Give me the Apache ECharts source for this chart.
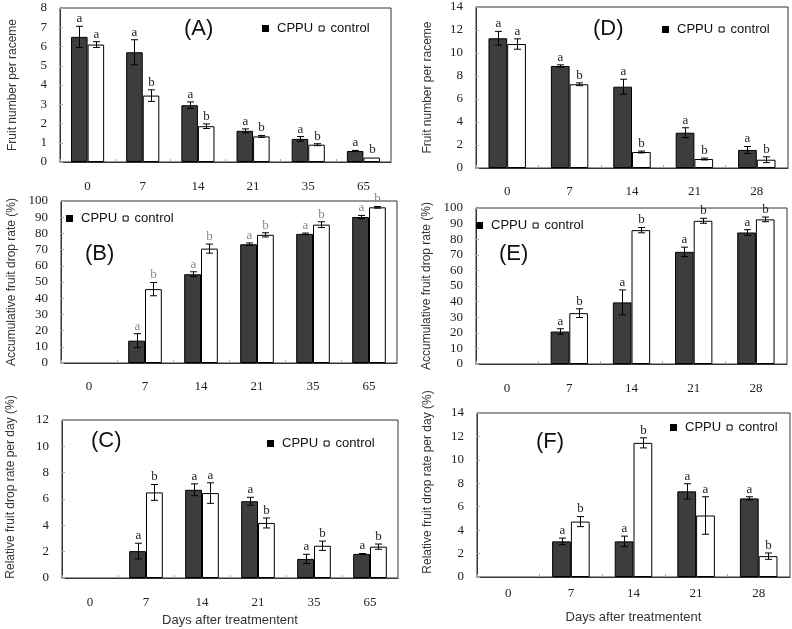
<!DOCTYPE html>
<html><head><meta charset="utf-8">
<script src="https://cdn.jsdelivr.net/npm/echarts@6/dist/echarts.min.js"></script>
<style>html,body{margin:0;padding:0;background:#fff}#c{width:792px;height:629px}</style>
</head><body><div id="c"></div>
<script>
// Categories
const daysLeft = ['0', '7', '14', '21', '35', '65'];
const daysRight = ['0', '7', '14', '21', '28'];
const xName = 'Days after treatmentent';

// (A) Fruit number per raceme
const aCPPU = [6.5, 5.7, 2.95, 1.62, 1.2, 0.57];
const aCPPUErr = [0.55, 0.65, 0.17, 0.1, 0.12, 0.03];
const aControl = [6.1, 3.45, 1.86, 1.33, 0.9, 0.23];
const aControlErr = [0.15, 0.3, 0.12, 0.05, 0.05, 0];
const aLetCPPU = ['a', 'a', 'a', 'a', 'a', 'a'];
const aLetControl = ['a', 'b', 'b', 'b', 'b', 'b'];

// (B) Accumulative fruit drop rate (%)
const bCPPU = [null, 13.8, 54.8, 73.3, 79.7, 90.1];
const bCPPUErr = [0, 4.3, 1.5, 0.8, 0.5, 1.0];
const bControl = [null, 45.6, 70.6, 79.1, 85.4, 96.1];
const bControlErr = [0, 4.1, 2.8, 1.3, 1.8, 0.5];
const bLetCPPU = ['', 'a', 'a', 'a', 'a', 'a'];
const bLetControl = ['', 'b', 'b', 'b', 'b', 'b'];

// (C) Relative fruit drop rate per day (%)
const cCPPU = [null, 2.04, 6.7, 5.83, 1.45, 1.83];
const cCPPUErr = [0, 0.6, 0.45, 0.3, 0.35, 0.03];
const cControl = [null, 6.5, 6.45, 4.18, 2.45, 2.38];
const cControlErr = [0, 0.6, 0.78, 0.38, 0.35, 0.2];
const cLetCPPU = ['', 'a', 'a', 'a', 'a', 'a'];
const cLetControl = ['', 'b', 'a', 'b', 'b', 'b'];

// (D) Fruit number per raceme
const dCPPU = [11.28, 8.87, 7.07, 3.07, 1.57];
const dCPPUErr = [0.6, 0.1, 0.65, 0.43, 0.3];
const dControl = [10.78, 7.28, 1.39, 0.78, 0.72];
const dControlErr = [0.45, 0.12, 0.08, 0.08, 0.25];
const dLetCPPU = ['a', 'a', 'a', 'a', 'a'];
const dLetControl = ['a', 'b', 'b', 'b', 'b'];

// (E) Accumulative fruit drop rate (%)
const eCPPU = [null, 20.8, 39.5, 71.9, 84.3];
const eCPPUErr = [0, 1.8, 8, 3, 1.8];
const eControl = [null, 32.6, 85.8, 91.8, 92.7];
const eControlErr = [0, 2.8, 1.7, 1.6, 1.5];
const eLetCPPU = ['', 'a', 'a', 'a', 'a'];
const eLetControl = ['', 'b', 'b', 'b', 'b'];

// (F) Relative fruit drop rate per day (%)
const fCPPU = [null, 3.04, 3.04, 7.31, 6.71];
const fCPPUErr = [0, 0.28, 0.45, 0.65, 0.14];
const fControl = [null, 4.73, 11.45, 5.25, 1.78];
const fControlErr = [0, 0.43, 0.43, 1.6, 0.27];
const fLetCPPU = ['', 'a', 'a', 'a', 'a'];
const fLetControl = ['', 'b', 'b', 'a', 'b'];

const SERIF = '"Liberation Serif", "Times New Roman", serif';
const SANS = '"Liberation Sans", Arial, sans-serif';

const panels = [
  { tag: '(A)', cats: daysLeft, cppu: aCPPU, cppuErr: aCPPUErr, ctrl: aControl, ctrlErr: aControlErr, lc: aLetCPPU, lk: aLetControl,
    grid: { left: 60, top: 8, width: 331, height: 154 }, yMax: 8, yInt: 1, yName: 'Fruit number per raceme', nameGap: 41, nameShift: 0,
    letterColor: '#222', legend: { left: 262, top: 22 }, title: { left: 184, top: 18 }, xMargin: 18, xName: '' },
  { tag: '(B)', cats: daysLeft, cppu: bCPPU, cppuErr: bCPPUErr, ctrl: bControl, ctrlErr: bControlErr, lc: bLetCPPU, lk: bLetControl,
    grid: { left: 61, top: 201, width: 336, height: 162 }, yMax: 100, yInt: 10, yName: 'Accumulative fruit drop rate (%)', nameGap: 43, nameShift: 0,
    letterColor: '#888', legend: { left: 66, top: 212 }, title: { left: 85, top: 243 }, xMargin: 17, xName: '' },
  { tag: '(C)', cats: daysLeft, cppu: cCPPU, cppuErr: cCPPUErr, ctrl: cControl, ctrlErr: cControlErr, lc: cLetCPPU, lk: cLetControl,
    grid: { left: 62, top: 420, width: 336, height: 158 }, yMax: 12, yInt: 2, yName: 'Relative fruit drop rate per day (%)', nameGap: 45, nameShift: 24,
    letterColor: '#222', legend: { left: 267, top: 437 }, title: { left: 91, top: 430 }, xMargin: 18, xName: xName, xNameGap: 36 },
  { tag: '(D)', cats: daysRight, cppu: dCPPU, cppuErr: dCPPUErr, ctrl: dControl, ctrlErr: dControlErr, lc: dLetCPPU, lk: dLetControl,
    grid: { left: 476, top: 7, width: 312, height: 161 }, yMax: 14, yInt: 2, yName: 'Fruit number per raceme', nameGap: 42, nameShift: 0,
    letterColor: '#222', legend: { left: 662, top: 23 }, title: { left: 593, top: 18 }, xMargin: 17, xName: '' },
  { tag: '(E)', cats: daysRight, cppu: eCPPU, cppuErr: eCPPUErr, ctrl: eControl, ctrlErr: eControlErr, lc: eLetCPPU, lk: eLetControl,
    grid: { left: 476, top: 208, width: 311, height: 156 }, yMax: 100, yInt: 10, yName: 'Accumulative fruit drop rate (%)', nameGap: 43, nameShift: 0,
    letterColor: '#222', legend: { left: 476, top: 219 }, title: { left: 499, top: 243 }, xMargin: 18, xName: '' },
  { tag: '(F)', cats: daysRight, cppu: fCPPU, cppuErr: fCPPUErr, ctrl: fControl, ctrlErr: fControlErr, lc: fLetCPPU, lk: fLetControl,
    grid: { left: 477, top: 413, width: 313, height: 164 }, yMax: 14, yInt: 2, yName: 'Relative fruit drop rate per day (%)', nameGap: 43, nameShift: 26,
    letterColor: '#222', legend: { left: 670, top: 421 }, title: { left: 536, top: 431 }, xMargin: 10, xName: xName, xNameGap: 34 }
];

function errSeries(name, gi, vals, errs, letters, sign, letterColor) {
  return {
    type: 'custom', name: name, xAxisIndex: gi, yAxisIndex: gi, z: 10, silent: true,
    data: vals.map((v, i) => v == null ? [i, '-', '-'] : [i, v, errs[i]]),
    renderItem: function (params, api) {
      const i = api.value(0), v = api.value(1), e = api.value(2);
      if (isNaN(v)) return null;
      const cw = api.size([1, 0])[0];
      const x = Math.round(api.coord([i, v])[0] + sign * cw * 0.15) + 0.5;
      const yTop = api.coord([i, v + e])[1];
      const yBot = api.coord([i, v - e])[1];
      const children = [];
      const ls = { stroke: '#000', lineWidth: 1 };
      if (e > 0) {
        children.push({ type: 'line', shape: { x1: x, y1: yTop, x2: x, y2: yBot }, style: ls });
        children.push({ type: 'line', shape: { x1: x - 3.5, y1: yTop, x2: x + 3.5, y2: yTop }, style: ls });
        children.push({ type: 'line', shape: { x1: x - 3.5, y1: yBot, x2: x + 3.5, y2: yBot }, style: ls });
      }
      children.push({ type: 'text', style: { text: letters[params.dataIndex], x: x, y: yTop - 1,
        align: 'center', verticalAlign: 'bottom', font: '13px ' + SERIF, fill: letterColor } });
      return { type: 'group', children: children };
    }
  };
}

const option = { animation: false, backgroundColor: '#fff',
  grid: [], xAxis: [], yAxis: [], series: [], legend: [], title: [] };

panels.forEach((p, gi) => {
  option.grid.push(Object.assign({ show: true, borderColor: '#333', borderWidth: 1, containLabel: false }, p.grid));
  option.xAxis.push({ type: 'category', gridIndex: gi, data: p.cats,
    axisLine: { lineStyle: { color: '#333', width: 1 } },
    axisTick: { show: true, inside: true, length: 3, lineStyle: { color: '#aaa' } },
    axisLabel: { fontFamily: SERIF, fontSize: 13, color: '#222', margin: p.xMargin },
    name: p.xName, nameLocation: 'middle', nameGap: p.xNameGap || 30,
    nameTextStyle: { fontFamily: SANS, fontSize: 13, color: '#333' } });
  option.yAxis.push({ type: 'value', gridIndex: gi, min: 0, max: p.yMax, interval: p.yInt,
    axisLine: { show: true, lineStyle: { color: '#333', width: 1 } },
    axisTick: { show: true, inside: true, length: 3, lineStyle: { color: '#aaa' } },
    splitLine: { show: false },
    axisLabel: { fontFamily: SERIF, fontSize: 13, color: '#222', margin: 13 },
    name: p.yName, nameLocation: 'middle', nameGap: p.nameGap,
    nameTextStyle: { fontFamily: SANS, fontSize: 12, color: '#333', padding: [0, 0, 0, p.nameShift] } });
  option.series.push({ type: 'bar', name: 'CPPU', xAxisIndex: gi, yAxisIndex: gi,
    data: p.cppu.map(v => v == null ? '-' : v), barGap: '0%', barCategoryGap: '40%',
    itemStyle: { color: '#3d3d3d', borderColor: '#000', borderWidth: 1 } });
  option.series.push({ type: 'bar', name: 'control', xAxisIndex: gi, yAxisIndex: gi,
    data: p.ctrl.map(v => v == null ? '-' : v), barGap: '0%', barCategoryGap: '40%',
    itemStyle: { color: '#fff', borderColor: '#000', borderWidth: 1 } });
  option.series.push(errSeries('errCPPU' + gi, gi, p.cppu, p.cppuErr, p.lc, -1, p.letterColor));
  option.series.push(errSeries('errControl' + gi, gi, p.ctrl, p.ctrlErr, p.lk, 1, p.letterColor));
  option.legend.push({ left: p.legend.left, top: p.legend.top, padding: 0, itemGap: 5,
    itemWidth: 7, itemHeight: 7, selectedMode: false,
    textStyle: { fontFamily: SANS, fontSize: 13, color: '#111' },
    data: [ { name: 'CPPU', icon: 'rect', itemStyle: { color: '#000', borderWidth: 0 },
              textStyle: { padding: [0, 0, 0, 3] } },
            { name: 'control', icon: 'path://M0,0M7,7M0.5,1h5v5h-5z',
              itemStyle: { color: '#fff', borderColor: '#000', borderWidth: 1 } } ] });
  option.title.push({ text: p.tag, left: p.title.left, top: p.title.top, padding: 0,
    textStyle: { fontFamily: SANS, fontSize: 22, fontWeight: 'normal', color: '#111' } });
});

const chart = echarts.init(document.getElementById('c'), null, { renderer: 'canvas' });
chart.setOption(option);
</script>
</body></html>
